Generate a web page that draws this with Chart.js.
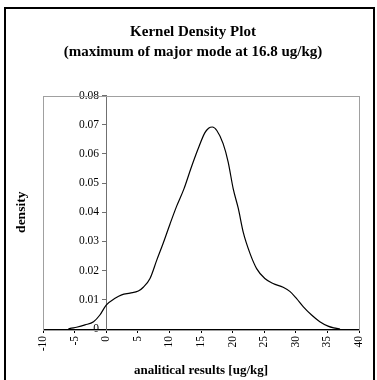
<!DOCTYPE html>
<html>
<head>
<meta charset="utf-8">
<script src="https://cdn.jsdelivr.net/npm/chart.js@4/dist/chart.umd.min.js"></script>
<style>
  html, body { margin: 0; padding: 0; background: #fff; }
  #wrap { position: relative; width: 377px; height: 380px; overflow: hidden; }
  #frame { position: absolute; left: 4px; top: 7px; width: 367px; height: 400px; border: 2px solid #000; pointer-events: none; }
</style>
</head>
<body>
<div id="wrap">
  <canvas id="c" width="377" height="380"></canvas>
  <div id="frame"></div>
</div>
<script>
// Data
const xValues = [-6, -5.7, -4.7, -3.35, -2, -1, 0, 1.4, 2.45, 3.77, 5.08, 5.87, 6.93, 8, 9, 10.1, 11.15, 12.3, 13.4, 14.5, 15.6, 16.2, 16.8, 17.5, 18.5, 19.3, 20.1, 20.9, 21.7, 22.75, 23.8, 25.1, 26.4, 28, 29.1, 30.1, 31.2, 32.5, 33.8, 35.1, 36, 37];
const densityValues = [0, 0.0002, 0.0006, 0.0014, 0.0025, 0.0048, 0.0082, 0.0105, 0.0117, 0.0123, 0.013, 0.0143, 0.0173, 0.0236, 0.0293, 0.036, 0.0421, 0.048, 0.055, 0.0615, 0.0672, 0.0688, 0.0692, 0.068, 0.0635, 0.0572, 0.048, 0.0413, 0.033, 0.0259, 0.0207, 0.0173, 0.0156, 0.0143, 0.0128, 0.0105, 0.0076, 0.0048, 0.0025, 0.001, 0.0004, 0];
const titleLines = ['Kernel Density Plot', '(maximum of major mode at 16.8 ug/kg)'];
const xTitle = 'analitical results [ug/kg]';
const yTitle = 'density';
const yAxisCrossing = 0;

const points = xValues.map((x, i) => ({ x: x, y: densityValues[i] }));
const serif = "'Liberation Serif', 'Times New Roman', serif";

const frameBox = {
  id: 'frameBox',
  afterLayout(chart) {
    // move the tick-labelled y axis so that it crosses the x axis at x = 0
    const s = chart.scales.y;
    const px = Math.round(chart.scales.x.getPixelForValue(yAxisCrossing));
    s.right = px;
    s.left = px - 50;
    s.width = 50;
  },
  beforeDatasetsDraw(chart) {
    const a = chart.chartArea;
    const ctx = chart.ctx;
    ctx.save();
    ctx.strokeStyle = '#a0a0a0';
    ctx.lineWidth = 1;
    ctx.strokeRect(Math.round(a.left) + 0.5, Math.round(a.top) + 0.5, Math.round(a.right - a.left), Math.round(a.bottom - a.top));
    ctx.restore();
  }
};

new Chart(document.getElementById('c'), {
  type: 'scatter',
  data: {
    datasets: [{
      data: points,
      showLine: true,
      borderColor: '#000',
      borderWidth: 1.2,
      pointRadius: 0,
      cubicInterpolationMode: 'monotone',
      fill: false
    }]
  },
  options: {
    responsive: false,
    animation: false,
    layout: { padding: { left: 9, right: 0, top: 0, bottom: 0 } },
    plugins: {
      legend: { display: false },
      tooltip: { enabled: false },
      title: {
        display: true,
        text: titleLines,
        color: '#000',
        font: { family: serif, size: 15, weight: 'bold', lineHeight: 1.35 },
        padding: { top: 22, bottom: 33 }
      }
    },
    scales: {
      x: {
        type: 'linear',
        position: 'bottom',
        min: -10, max: 40,
        afterFit(s) { s.height = 51; },
        ticks: {
          stepSize: 5,
          minRotation: 90, maxRotation: 90,
          color: '#000',
          padding: 3,
          font: { family: serif, size: 11.5 }
        },
        grid: { drawOnChartArea: false, drawTicks: true, tickLength: 4, color: '#000' },
        border: { display: true, color: '#000', width: 1 },
        title: {
          display: true, text: xTitle, color: '#000',
          font: { family: serif, size: 13, weight: 'bold' },
          padding: { top: 4, bottom: 2 }
        }
      },
      yLeft: {
        type: 'linear',
        position: 'left',
        weight: 2,
        min: 0, max: 0.08,
        afterFit(s) { s.width = 34; },
        ticks: { display: false },
        grid: { display: false, drawTicks: false },
        border: { display: false },
        title: {
          display: true, text: yTitle, color: '#000',
          font: { family: serif, size: 13.5, weight: 'bold' },
          padding: { top: 4, bottom: 4 }
        }
      },
      y: {
        type: 'linear',
        position: 'left',
        weight: 1,
        min: 0, max: 0.08,
        afterFit(s) { s.width = 0; },
        ticks: {
          stepSize: 0.01,
          color: '#000',
          padding: 3,
          font: { family: serif, size: 11.5 }
        },
        grid: { drawOnChartArea: false, drawTicks: true, tickLength: 4, color: '#707070' },
        border: { display: true, color: '#707070', width: 1 }
      },
      yRight: {
        type: 'linear',
        position: 'right',
        min: 0, max: 0.08,
        afterFit(s) { s.width = 18; },
        ticks: { display: false },
        grid: { display: false, drawTicks: false },
        border: { display: false }
      }
    }
  },
  plugins: [frameBox]
});
</script>
</body>
</html>
